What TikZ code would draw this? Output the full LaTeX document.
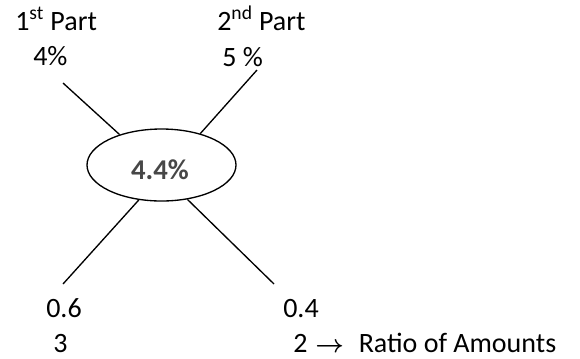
\documentclass[tikz,border=0pt]{standalone}
\usepackage{fontspec}
\setmainfont{Carlito}
\usetikzlibrary{shapes.geometric}
\tikzset{
  lbl/.style={inner sep=0pt, anchor=base west, font=\fontsize{21}{25}\selectfont},
  conn/.style={line width=1pt, black},
  oval/.style={draw, ellipse, line width=1pt, inner sep=0pt, minimum width=111.75pt, minimum height=54pt}
}
\begin{document}
\begin{tikzpicture}[x=0.75pt,y=-0.75pt]
\useasboundingbox (0,0) rectangle (580,358);
% texts
\node[lbl] (p1) at (15,30) {1\textsuperscript{st} Part};
\node[lbl] (r1) at (33,65) {4\%};
\node[lbl] (p2) at (217,30) {2\textsuperscript{nd} Part};
\node[lbl] (r2) at (222,66) {5 \%};
% central ellipse
\node[oval] (e) at (161.5,165) {};
\node[lbl, anchor=base, font=\fontsize{21.5}{25}\selectfont\bfseries, text=black!72] (v) at (160,179.5) {4.4\%};
% bottom texts
\node[lbl] (d1) at (46,317) {0.6};
\node[lbl] (n1) at (53,352) {3};
\node[lbl] (d2) at (283,317) {0.4};
\node[lbl] (n2) at (293,352) {2\hspace{6pt}\scalebox{0.9}{\boldmath$\rightarrow$}\hspace{11pt}Ratio of Amounts};
% connector ends
\coordinate (t1) at (63,83);
\coordinate (t2) at (257,70);
\coordinate (b1) at (63,284);
\coordinate (b2) at (274,284);
\draw[conn] (t1) -- (e.144.8);
\draw[conn] (t2) -- (e.39.6);
\draw[conn] (b1) -- (e.-123.3);
\draw[conn] (b2) -- (e.-53);
\end{tikzpicture}
\end{document}
